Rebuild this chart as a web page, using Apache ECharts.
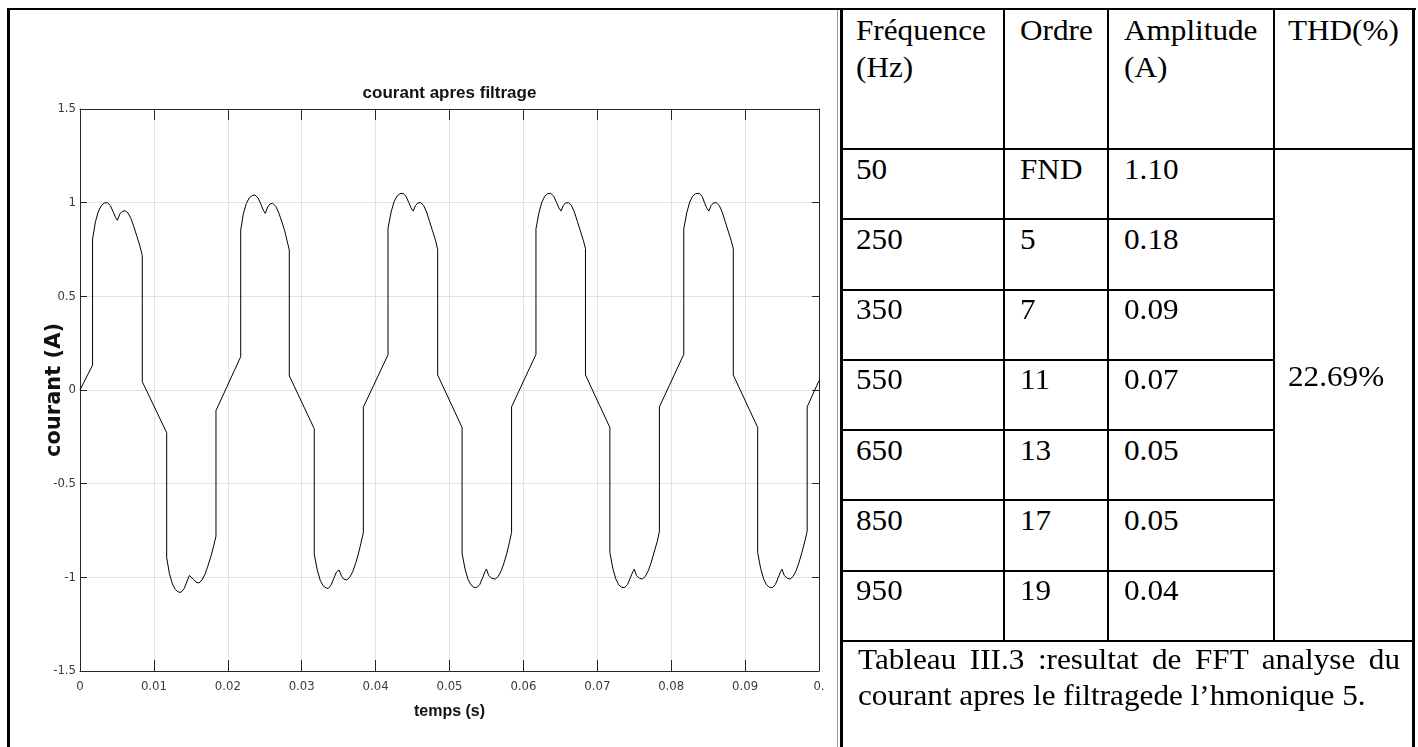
<!DOCTYPE html>
<html><head><meta charset="utf-8">
<script src="https://cdn.jsdelivr.net/npm/echarts@6/dist/echarts.min.js"></script>
<style>
html,body{margin:0;padding:0;background:#fff;width:1418px;height:747px;overflow:hidden;position:relative;}
#chart{position:absolute;left:0;top:0;width:840px;height:747px;}
.ln{position:absolute;background:#000;}
.tx{position:absolute;font-family:'Liberation Serif','Times New Roman',serif;font-size:30px;line-height:37px;color:#000;white-space:nowrap;transform:scaleX(1.04);transform-origin:0 0;}
.cap{white-space:normal;text-align:justify;line-height:36px;}
</style></head><body>
<div id="chart"></div>
<div id="table"></div>
<script>
// ---------- chart data ----------
const cycle1 = [[0,0],[0.0017,0.133],[0.0017,0.806],[0.0021,0.9],[0.0025,0.955],[0.0029,0.985],[0.0033,0.998],[0.0037,1.0],[0.0041,0.985],[0.0045,0.95],[0.0048,0.922],[0.00505,0.906],[0.0054,0.94],[0.0057,0.953],[0.0061,0.957],[0.0065,0.945],[0.0069,0.915],[0.0073,0.87],[0.0077,0.82],[0.0081,0.77],[0.00843,0.717],
 [0.00843,0.044],[0.01173,-0.228],[0.01173,-0.895],[0.0121,-0.98],[0.0125,-1.035],[0.0129,-1.065],[0.0133,-1.078],[0.01367,-1.08],[0.0141,-1.06],[0.0145,-1.02],[0.0148,-0.99],[0.01507,-0.98],[0.0154,-1.012],[0.0157,-1.026],[0.0161,-1.03],[0.0165,-1.015],[0.0169,-0.985],[0.0173,-0.94],[0.0177,-0.89],[0.0181,-0.83],[0.0184,-0.78],[0.0184,-0.11]];
const cycle2 = [[0.02175,0.178],[0.02175,0.854],[0.0221,0.94],[0.0225,0.995],[0.0229,1.025],[0.0233,1.038],[0.02368,1.041],[0.0241,1.025],[0.0245,0.99],[0.0248,0.96],[0.02508,0.943],[0.0254,0.978],[0.0257,0.993],[0.02607,0.997],[0.0265,0.98],[0.0269,0.945],[0.0273,0.9],[0.0277,0.85],[0.028,0.8],[0.02832,0.747],
 [0.02832,0.076],[0.0317,-0.207],[0.0317,-0.877],[0.0321,-0.96],[0.0325,-1.015],[0.0329,-1.045],[0.0333,-1.057],[0.0336,-1.059],[0.034,-1.04],[0.0344,-1.0],[0.0347,-0.972],[0.03505,-0.961],[0.0354,-0.995],[0.0357,-1.01],[0.0361,-1.014],[0.0365,-1.0],[0.0369,-0.97],[0.0373,-0.925],[0.0377,-0.87],[0.038,-0.82],[0.03834,-0.762],[0.03834,-0.092]];
const cycle3 = [[0.04168,0.188],[0.04168,0.863],[0.0421,0.95],[0.0425,1.005],[0.0429,1.035],[0.0433,1.048],[0.0437,1.05],[0.0441,1.035],[0.0445,1.0],[0.0448,0.972],[0.0451,0.955],[0.0454,0.985],[0.0457,0.998],[0.0461,1.0],[0.0465,0.985],[0.0469,0.95],[0.0473,0.9],[0.0477,0.85],[0.0481,0.8],[0.0484,0.75],
 [0.0484,0.08],[0.0517,-0.2],[0.0517,-0.872],[0.0521,-0.955],[0.0525,-1.01],[0.0529,-1.04],[0.0533,-1.053],[0.0537,-1.055],[0.0541,-1.038],[0.0545,-1.0],[0.0548,-0.97],[0.055,-0.956],[0.0553,-0.99],[0.0557,-1.005],[0.0562,-1.009],[0.0566,-0.995],[0.057,-0.965],[0.0574,-0.92],[0.0578,-0.865],[0.0581,-0.815],[0.0584,-0.76],[0.0584,-0.09]];
const cycle4 = [[0.0617,0.19],[0.0617,0.86],[0.0621,0.945],[0.0625,1.003],[0.0629,1.035],[0.0633,1.048],[0.0637,1.05],[0.0641,1.035],[0.0645,1.0],[0.0648,0.972],[0.0651,0.955],[0.0654,0.985],[0.0657,0.998],[0.0661,1.0],[0.0665,0.985],[0.0669,0.95],[0.0673,0.9],[0.0677,0.85],[0.0681,0.8],[0.0684,0.756],
 [0.0684,0.08],[0.0717,-0.2],[0.0717,-0.867],[0.0721,-0.952],[0.0725,-1.008],[0.0729,-1.04],[0.0733,-1.053],[0.0737,-1.055],[0.0741,-1.038],[0.0745,-1.0],[0.0748,-0.97],[0.075,-0.957],[0.0753,-0.99],[0.0757,-1.005],[0.0761,-1.009],[0.0765,-0.995],[0.0769,-0.965],[0.0773,-0.92],[0.0777,-0.865],[0.0781,-0.81],[0.0784,-0.757],[0.0784,-0.09]];
const cycle5 = [[0.0817,0.19],[0.0817,0.86],[0.0821,0.945],[0.0825,1.003],[0.0829,1.035],[0.0833,1.048],[0.0838,1.05],[0.0842,1.033],[0.0845,1.0],[0.0848,0.972],[0.0851,0.955],[0.0854,0.985],[0.0857,0.998],[0.0861,1.0],[0.0865,0.985],[0.0869,0.95],[0.0873,0.9],[0.0877,0.85],[0.0881,0.8],[0.0884,0.756],
 [0.0884,0.08],[0.0917,-0.2],[0.0917,-0.867],[0.0921,-0.952],[0.0925,-1.008],[0.0929,-1.04],[0.0933,-1.053],[0.0937,-1.055],[0.0941,-1.038],[0.0945,-1.0],[0.0948,-0.97],[0.095,-0.957],[0.0953,-0.99],[0.0957,-1.005],[0.0961,-1.009],[0.0965,-0.995],[0.0969,-0.965],[0.0973,-0.92],[0.0977,-0.865],[0.0981,-0.805],[0.0984,-0.753],[0.0984,-0.09],[0.1,0.05]];
const xTickLabels = ['0','0.01','0.02','0.03','0.04','0.05','0.06','0.07','0.08','0.09','0.'];
const yTickLabels = ['-1.5','-1','-0.5','0','0.5','1','1.5'];
const chartTitle = 'courant apres filtrage';
const xAxisTitle = 'temps (s)';
const yAxisTitle = 'courant (A)';

// ---------- table data ----------
const headerCells = [['Fréquence','(Hz)'],['Ordre'],['Amplitude','(A)'],['THD(%)']];
const frequencies = ['50','250','350','550','650','850','950'];
const orders = ['FND','5','7','11','13','17','19'];
const amplitudes = ['1.10','0.18','0.09','0.07','0.05','0.05','0.04'];
const thdValue = '22.69%';
const captionText = 'Tableau III.3 :resultat de FFT analyse du courant apres le filtragede l’hmonique 5.';

// ---------- chart ----------
const narrow = "'Liberation Sans Narrow','DejaVu Sans Condensed','Arial Narrow',sans-serif";
const sans = "'Liberation Sans',Arial,sans-serif";
const axisCol = '#262626';
const gridCol = '#e2e2e2';
const currentData = [].concat(cycle1, cycle2, cycle3, cycle4, cycle5);

const chart = echarts.init(document.getElementById('chart'), null, {renderer:'canvas'});
const axisLine = {show:true,onZero:false,lineStyle:{color:axisCol,width:1}};
chart.setOption({
  animation:false,
  backgroundColor:'transparent',
  grid:{left:80,top:109,width:739,height:562,show:false,containLabel:false,outerBoundsMode:'none'},
  xAxis:[
    {type:'value',position:'bottom',min:0,max:0.1,interval:0.01,
     name:xAxisTitle,nameLocation:'middle',nameGap:33,nameMoveOverlap:false,
     nameTextStyle:{fontFamily:sans,fontWeight:'bold',fontSize:16,color:'#111'},
     axisLine:axisLine,
     axisTick:{show:true,inside:true,length:11,lineStyle:{color:axisCol}},
     axisLabel:{show:true,margin:9,fontSize:13,fontFamily:narrow,color:'#3a3a3a',showMinLabel:true,showMaxLabel:true,
       formatter:v=>xTickLabels[Math.round(v*100)]},
     splitLine:{show:true,lineStyle:{color:gridCol,width:1}}},
    {type:'value',position:'top',min:0,max:0.1,interval:0.01,
     name:chartTitle,nameLocation:'middle',nameGap:7,nameMoveOverlap:false,
     nameTextStyle:{fontFamily:sans,fontWeight:'bold',fontSize:17,color:'#111'},
     axisLine:axisLine,
     axisTick:{show:true,inside:true,length:11,lineStyle:{color:axisCol}},
     axisLabel:{show:false},splitLine:{show:false}}
  ],
  yAxis:[
    {type:'value',position:'left',min:-1.5,max:1.5,interval:0.5,
     name:yAxisTitle,nameLocation:'middle',nameRotate:90,nameGap:15,nameMoveOverlap:false,
     nameTextStyle:{fontFamily:"'DejaVu Sans',Verdana,sans-serif",fontWeight:'bold',fontSize:21,color:'#111'},
     axisLine:axisLine,
     axisTick:{show:true,inside:true,length:7,lineStyle:{color:axisCol}},
     axisLabel:{show:true,margin:4,fontSize:13,fontFamily:narrow,color:'#3a3a3a',showMinLabel:true,showMaxLabel:true,
       formatter:v=>yTickLabels[Math.round((v+1.5)*2)]},
     splitLine:{show:true,lineStyle:{color:gridCol,width:1}}},
    {type:'value',position:'right',min:-1.5,max:1.5,interval:0.5,
     axisLine:axisLine,
     axisTick:{show:true,inside:true,length:7,lineStyle:{color:axisCol}},
     axisLabel:{show:false},splitLine:{show:false}}
  ],
  series:[{type:'line',data:currentData,xAxisIndex:0,yAxisIndex:0,showSymbol:false,silent:true,
    lineStyle:{color:'#000',width:1}}]
});

// ---------- frame + table ----------
const root = document.getElementById('table');
function line(l,t,w,h,c){const d=document.createElement('div');d.className='ln';d.style.cssText=`left:${l}px;top:${t}px;width:${w}px;height:${h}px;`+(c?`background:${c};`:'');root.appendChild(d);}
function text(str,l,t,cls,w){const d=document.createElement('div');d.className='tx'+(cls?' '+cls:'');d.style.left=l+'px';d.style.top=t+'px';if(w)d.style.width=w+'px';d.textContent=str;root.appendChild(d);return d;}

line(7,8,3,739);
line(7,8,1409,2);
line(837,10,1,737,'#9a9a9a');
line(840,8,3,739);
line(1412,8,3,739);
const colLines=[1003,1107,1273];
const headerBottom=148, rowH=70.25;
const captionTop=headerBottom+rowH*frequencies.length;
colLines.forEach(x=>line(x,8,2,captionTop-8));
line(840,headerBottom,575,2);
for(let k=1;k<frequencies.length;k++) line(840,headerBottom+rowH*k,435,2);
line(840,captionTop,575,2);

const colTextX=[856,1020,1124,1288];
headerCells.forEach((lines,ci)=>{lines.forEach((s,li)=>text(s,colTextX[ci],10.5+li*37));});
for(let r=0;r<frequencies.length;r++){
  const y=headerBottom+rowH*r+1.7;
  text(frequencies[r],colTextX[0],y);
  text(orders[r],colTextX[1],y);
  text(amplitudes[r],colTextX[2],y);
}
text(thdValue,colTextX[3],357);
text(captionText,858,captionTop+1.5,'cap',(1400-858)/1.04);
</script>
</body></html>
